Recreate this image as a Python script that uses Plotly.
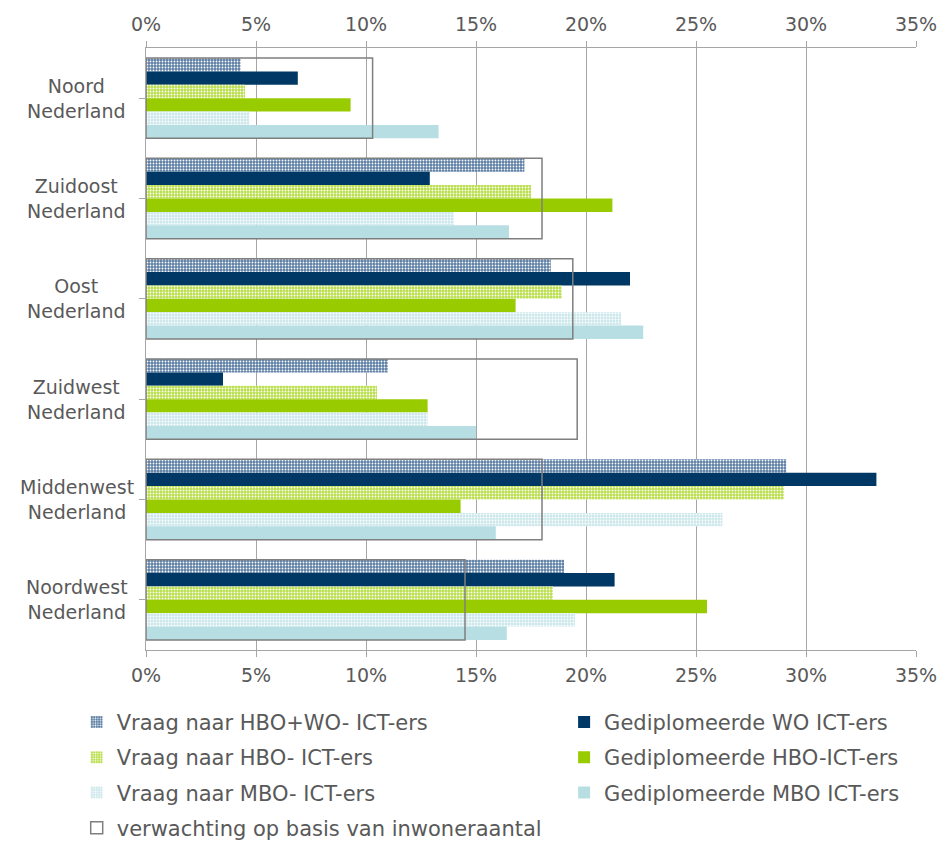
import plotly.graph_objects as go

regions = ["Noord<br>Nederland", "Zuidoost<br>Nederland", "Oost<br>Nederland",
           "Zuidwest<br>Nederland", "Middenwest<br>Nederland", "Noordwest<br>Nederland"]

vraag_hbo_wo = [0.043, 0.172, 0.184, 0.110, 0.291, 0.190]
grad_wo      = [0.069, 0.129, 0.220, 0.035, 0.332, 0.213]
vraag_hbo    = [0.045, 0.175, 0.189, 0.105, 0.290, 0.185]
grad_hbo     = [0.093, 0.212, 0.168, 0.128, 0.143, 0.255]
vraag_mbo    = [0.047, 0.140, 0.216, 0.128, 0.262, 0.195]
grad_mbo     = [0.133, 0.165, 0.226, 0.150, 0.159, 0.164]
verwachting  = [0.103, 0.180, 0.194, 0.196, 0.180, 0.145]

tick_vals = [0, 0.05, 0.10, 0.15, 0.20, 0.25, 0.30, 0.35]
tick_text = ["0%", "5%", "10%", "15%", "20%", "25%", "30%", "35%"]

GRID = "#a6a6a6"
TXT = "#595959"
FONT = "DejaVu Sans"

series = [
    ("Vraag naar HBO+WO- ICT-ers", vraag_hbo_wo, "#5b7ea4", True, "legend"),
    ("Gediplomeerde WO ICT-ers", grad_wo, "#003865", False, "legend2"),
    ("Vraag naar HBO- ICT-ers", vraag_hbo, "#b9de4a", True, "legend"),
    ("Gediplomeerde HBO-ICT-ers", grad_hbo, "#99cc00", False, "legend2"),
    ("Vraag naar MBO- ICT-ers", vraag_mbo, "#cde8ec", True, "legend"),
    ("Gediplomeerde MBO ICT-ers", grad_mbo, "#b7dfe3", False, "legend2"),
]

fig = go.Figure()
for i, (name, vals, col, patterned, leg) in enumerate(series):
    marker = dict(color=col, line=dict(width=0))
    if patterned:
        marker["pattern"] = dict(shape=".", fgcolor="white", bgcolor=col,
                                 size=3, solidity=0.3, fillmode="replace")
    fig.add_trace(go.Bar(
        x=vals, y=list(range(len(regions))), orientation="h", name=name,
        marker=marker, legend=leg, legendgroup=f"g{i}",
    ))

fig.add_trace(go.Bar(
    x=verwachting, y=list(range(len(regions))), orientation="h",
    name="verwachting op basis van inwoneraantal",
    xaxis="x2", width=0.8,
    marker=dict(color="rgba(0,0,0,0)", line=dict(color="#7f7f7f", width=1.5)),
    legend="legend", legendgroup="g6",
))

for i, r in enumerate(regions):
    fig.add_annotation(x=-0.09, xref="paper", y=i, yref="y", text=r,
                       showarrow=False, xanchor="center", yanchor="middle",
                       align="center", font=dict(family=FONT, size=19, color=TXT))

axis_common = dict(range=[0, 0.35], tickvals=tick_vals, ticktext=tick_text,
                   tickfont=dict(family=FONT, size=19, color=TXT),
                   ticks="outside", ticklen=6, tickcolor=GRID,
                   ticklabeloverflow="allow",
                   showline=True, linecolor=GRID, linewidth=1, zeroline=False)

leg_font = dict(family=FONT, size=21, color=TXT)
fig.update_layout(
    width=937, height=845,
    margin=dict(l=146, r=21, t=48, b=195, autoexpand=False),
    paper_bgcolor="white", plot_bgcolor="white",
    barmode="group", bargap=0.2, bargroupgap=0,
    xaxis=dict(side="top", showgrid=True, gridcolor=GRID, gridwidth=1,
               ticklabelstandoff=2, **axis_common),
    xaxis2=dict(side="bottom", overlaying="x", showgrid=False,
                ticklabelstandoff=2, **axis_common),
    yaxis=dict(range=[5.5, -0.5], tickvals=list(range(6)), showticklabels=False,
               tickson="boundaries", ticks="outside", ticklen=6, tickcolor=GRID,
               showline=True, linecolor=GRID, showgrid=False, zeroline=False),
    legend=dict(x=-0.09, xanchor="left", y=-0.086, yanchor="top",
                orientation="v", tracegroupgap=5, traceorder="grouped",
                font=leg_font, bgcolor="rgba(0,0,0,0)"),
    legend2=dict(x=0.543, xanchor="left", y=-0.086, yanchor="top",
                 orientation="v", tracegroupgap=5, traceorder="grouped",
                 font=leg_font, bgcolor="rgba(0,0,0,0)"),
    showlegend=True,
)

fig.write_html("out.html")
